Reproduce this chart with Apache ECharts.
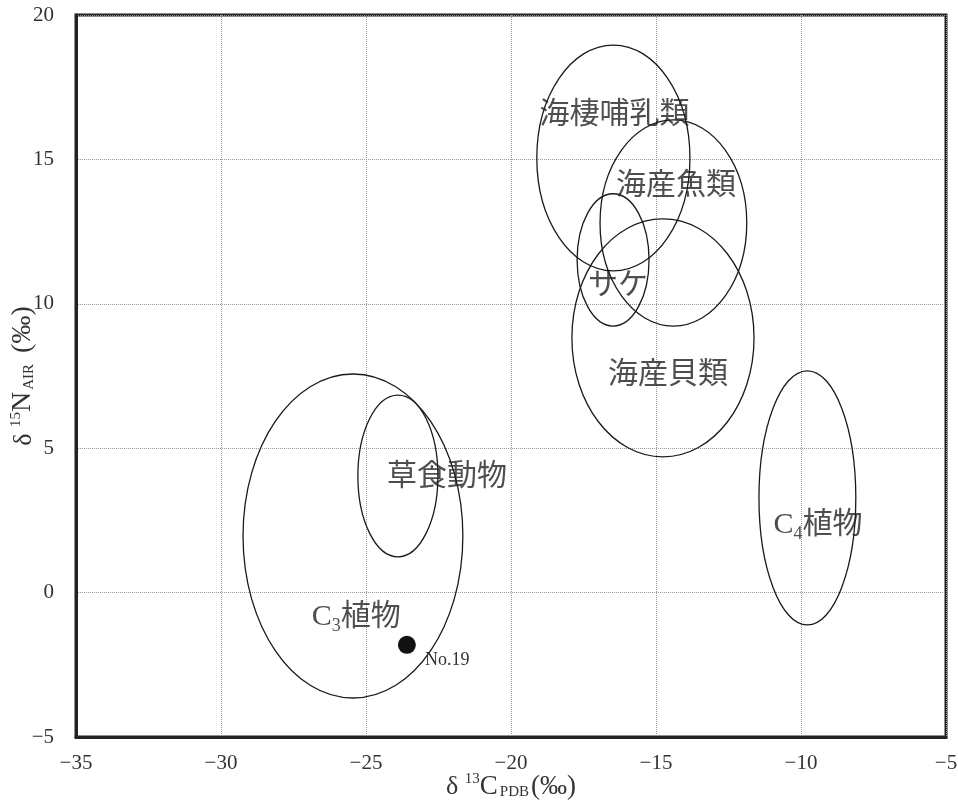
<!DOCTYPE html>
<html>
<head>
<meta charset="utf-8">
<script src="https://cdn.jsdelivr.net/npm/echarts@6/dist/echarts.min.js"></script>
<style>
html,body{margin:0;padding:0;background:#fff;}
#chart{width:958px;height:805px;}
</style>
</head>
<body>
<div id="chart"></div>
<script>
// Ellipse groups: centre (δ13C, δ15N) and half-widths
var groupNames = ['C3植物', '草食動物', '海棲哺乳類', '海産魚類', 'サケ', '海産貝類', 'C4植物'];
var centerX = [-25.45, -23.9, -16.47, -14.40, -16.48, -14.76, -9.78];
var centerY = [1.96, 4.04, 15.05, 12.80, 11.52, 8.82, 3.28];
var radiusX = [3.79, 1.38, 2.64, 2.53, 1.24, 3.14, 1.67];
var radiusY = [5.61, 2.80, 3.91, 3.57, 2.29, 4.12, 4.40];

// Text labels placed in data space
var labelNames = ['海棲哺乳類', '海産魚類', 'サケ', '海産貝類', '草食動物', 'C3植物', 'C4植物'];
var labelX = [-16.43, -14.31, -16.31, -14.59, -22.21, -25.34, -9.41];
var labelY = [16.64, 14.18, 10.72, 7.64, 4.11, -0.74, 2.44];

// Sample point
var sampleName = ['No.19'];
var sampleX = [-23.59];
var sampleY = [-1.81];

// Axis ranges / ticks
var xMin = -35, xMax = -5, xStep = 5;
var yMin = -5, yMax = 20, yStep = 5;

var serif = '"Liberation Serif", "DejaVu Serif", "Noto Sans CJK JP", serif';
var ink = '#222';

var ellipseData = groupNames.map(function (n, i) {
  return [centerX[i], centerY[i], radiusX[i], radiusY[i], n];
});
var labelData = labelNames.map(function (n, i) {
  return [labelX[i], labelY[i], n];
});
var sampleData = sampleName.map(function (n, i) {
  return [sampleX[i], sampleY[i], n];
});

function fmtNum(v) { return (v < 0 ? '\u2212' : '') + Math.abs(v); }

function richLabel(s) {
  var m = /^C(\d)(.*)$/.exec(s);
  if (m) return '{m|C}{s|' + m[1] + '}{m|' + m[2] + '}';
  return '{m|' + s + '}';
}

var chart = echarts.init(document.getElementById('chart'), null, {renderer: 'canvas'});
chart.setOption({
  backgroundColor: '#fff',
  animation: false,
  grid: {left: 76, right: 12, top: 15, bottom: 68, show: true, borderColor: '#222', borderWidth: 3,
         containLabel: false, outerBoundsMode: 'none'},
  xAxis: {
    type: 'value', min: xMin, max: xMax, interval: xStep,
    axisLine: {show: true, onZero: false, lineStyle: {color: '#222', width: 3}},
    axisTick: {show: false},
    splitLine: {show: true, lineStyle: {color: '#999', type: 'dotted', width: 1}},
    axisLabel: {formatter: fmtNum, color: '#333', fontFamily: serif, fontSize: 21, margin: 16},
    name: '{d|δ }{sup|13}{m|C}{sub|PDB}{m|(‰)}',
    nameLocation: 'middle', nameGap: 33, nameMoveOverlap: false,
    nameTextStyle: {
      color: '#333', fontFamily: serif,
      rich: {
        d: {fontSize: 26, fontFamily: serif, color: '#333', lineHeight: 30, verticalAlign: 'bottom'},
        m: {fontSize: 27, fontFamily: serif, color: '#333', lineHeight: 30, verticalAlign: 'bottom'},
        sup: {fontSize: 15, fontFamily: serif, color: '#333', lineHeight: 30, verticalAlign: 'top', padding: [2, 0, 0, 0]},
        sub: {fontSize: 15, fontFamily: serif, color: '#333', lineHeight: 30, verticalAlign: 'bottom', padding: [0, 2, 0, 2]}
      }
    }
  },
  yAxis: {
    type: 'value', min: yMin, max: yMax, interval: yStep,
    axisLine: {show: true, onZero: false, lineStyle: {color: '#222', width: 3}},
    axisTick: {show: false},
    splitLine: {show: true, lineStyle: {color: '#999', type: 'dotted', width: 1}},
    axisLabel: {formatter: fmtNum, color: '#333', fontFamily: serif, fontSize: 21, margin: 22},
    name: '{d|δ }{sup|15}{m|N}{sub|AIR}{m| (‰)}',
    nameLocation: 'middle', nameGap: 39, nameRotate: 90, nameMoveOverlap: false,
    nameTextStyle: {
      color: '#333', fontFamily: serif,
      rich: {
        d: {fontSize: 26, fontFamily: serif, color: '#333', lineHeight: 30, verticalAlign: 'bottom'},
        m: {fontSize: 28, fontFamily: serif, color: '#333', lineHeight: 30, verticalAlign: 'bottom'},
        sup: {fontSize: 15, fontFamily: serif, color: '#333', lineHeight: 30, verticalAlign: 'top', padding: [2, 0, 0, 0]},
        sub: {fontSize: 15, fontFamily: serif, color: '#333', lineHeight: 30, verticalAlign: 'bottom', padding: [0, 4, 0, 2]}
      }
    }
  },
  series: [
    {
      type: 'custom',
      data: ellipseData,
      encode: {x: 0, y: 1},
      clip: true,
      silent: true,
      renderItem: function (params, api) {
        var c = api.coord([api.value(0), api.value(1)]);
        var s = api.size([api.value(2), api.value(3)]);
        return {
          type: 'ellipse',
          shape: {cx: c[0], cy: c[1], rx: s[0], ry: s[1]},
          style: {fill: 'none', stroke: '#1a1a1a', lineWidth: 1.3}
        };
      }
    },
    {
      type: 'scatter',
      data: labelData,
      symbolSize: 0,
      silent: true,
      label: {
        show: true, position: 'inside', offset: [0, 3],
        formatter: function (p) { return richLabel(p.data[2]); },
        rich: {
          m: {fontSize: 30, fontFamily: serif, color: ink, lineHeight: 36, verticalAlign: 'middle'},
          s: {fontSize: 18, fontFamily: serif, color: ink, lineHeight: 36, verticalAlign: 'bottom'}
        }
      }
    },
    {
      type: 'scatter',
      data: sampleData,
      symbol: 'circle',
      symbolSize: 18,
      itemStyle: {color: '#111', opacity: 1},
      silent: true,
      label: {
        show: true, position: [27, 15], align: 'left', verticalAlign: 'top',
        formatter: function (p) { return p.data[2]; },
        fontFamily: serif, fontSize: 18, color: '#333'
      }
    }
  ]
});
</script>
</body>
</html>
